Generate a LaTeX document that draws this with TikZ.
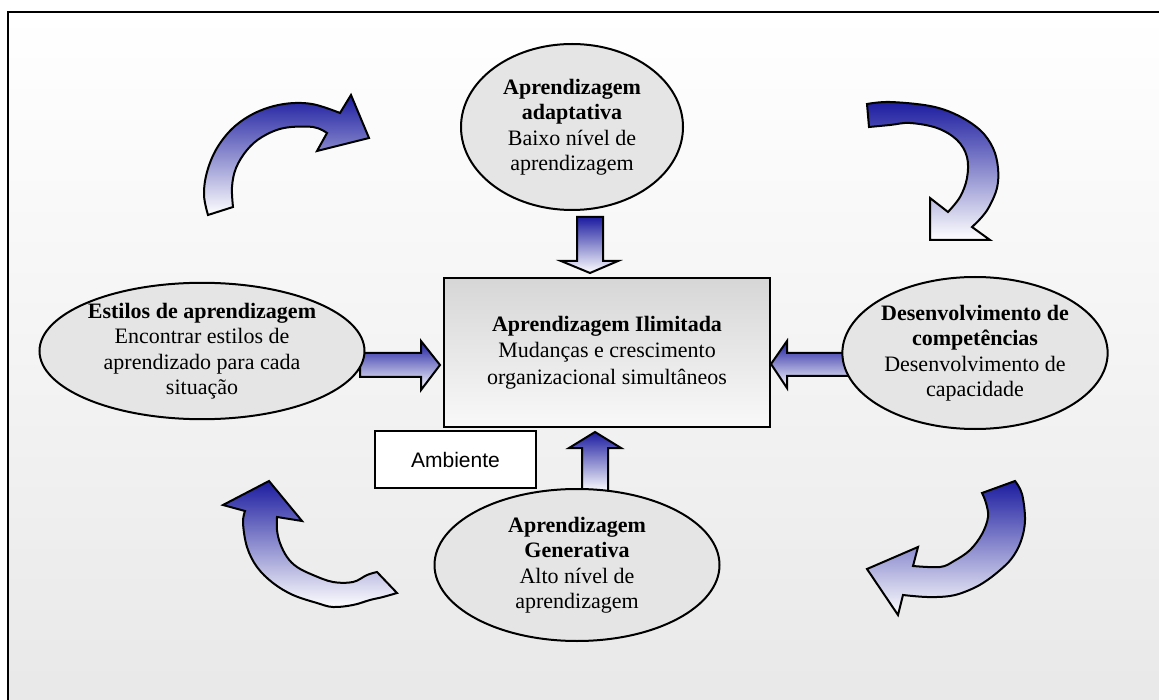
\documentclass[tikz,border=0pt]{standalone}
\usepackage{fontspec}
\setmainfont{Liberation Serif}
\setsansfont{Liberation Sans}
\usetikzlibrary{shapes.geometric}
\definecolor{arrowblue}{RGB}{28,28,160}
\begin{document}
\begin{tikzpicture}[x=1pt,y=-1pt,
  bubble/.style={ellipse, draw=black, line width=2, fill=gray!20, inner sep=0pt,
    align=center, font=\fontsize{22}{25.5}\selectfont},
  core/.style={rectangle, draw=black, line width=2, top color=gray!32, bottom color=gray!5,
    align=center, font=\fontsize{22}{26.5}\selectfont, minimum width=326, minimum height=149},
  tag/.style={rectangle, draw=black, line width=2, fill=white,
    font=\sffamily\fontsize{21}{25}\selectfont, minimum width=161, minimum height=57},
  flow/.style={draw=black, line width=2, line join=miter, top color=arrowblue, bottom color=white},
  edge/.style={smooth, tension=0.6},
]
\clip (0,0) rectangle (1159,700);
\fill[white] (0,0) rectangle (1159,700);
% framed background with a soft vertical gradient
\draw[line width=2, top color=white, bottom color=gray!18] (8,12) rectangle (1175,715);

% curved block arrows of the cycle
\draw[flow] (208,215) -- plot[edge] coordinates {(208,215) (204,195) (207,172) (217,148) (234,127) (257,112) (284,104) (312,104) (340,113)}
  -- (351,95) -- (369,138) -- (317,151)
  -- plot[edge] coordinates {(327,133) (313,127) (284,128) (262,137) (247,150) (236,168) (232,187) (233,207)} -- cycle;

\draw[flow] (867,104) -- plot[edge] coordinates {(867,104) (890,102) (930,106) (957,115) (980,130) (993,148) (998,168) (997,188) (989,207) (981,218) (972,227)}
  -- (990,240) -- (930,240) -- (930,198)
  -- plot[edge] coordinates {(948,212) (960,197) (967,178) (967,157) (957,140) (937,128) (910,123) (890,125) (869,127)} -- cycle;

\draw[flow] (982,493) -- plot[edge] coordinates {(1015,481) (1022,494) (1025,520) (1021,541) (1012,558) (999,571) (983,583) (967,591) (950,596) (927,597) (903,595)}
  -- (898,615) -- (867,569) -- (918,547)
  -- plot[edge] coordinates {(913,566) (940,567) (954,561) (970,550) (982,534) (988,517) (986,503) (982,493)} -- cycle;

\draw[flow] (269,481) -- (302,521)
  -- plot[edge] coordinates {(277,517) (277,530) (280,543) (287,557) (297,567) (313,575) (333,582) (353,582) (367,575) (377,572)}
  -- plot[edge] coordinates {(397,593) (383,597) (370,600) (353,605) (333,607) (317,603) (293,595) (273,583) (257,567) (247,547) (243,523) (245,511)}
  -- (223,505) -- cycle;

% straight block arrows into the centre
\draw[flow] (577,217) -- (603,217) -- (603,261) -- (618,261) -- (590,273) -- (561,261) -- (577,261) -- cycle;
\draw[flow] (582,492) -- (582,448) -- (569,448) -- (595,432) -- (621,448) -- (608,448) -- (608,492) -- cycle;
\draw[flow] (360,353) -- (421,353) -- (421,341) -- (440,365) -- (421,390) -- (421,377) -- (360,377) -- cycle;
\draw[flow] (850,353) -- (787,353) -- (787,341) -- (771,364) -- (787,388) -- (787,376) -- (850,376) -- cycle;

% learning stages
\node[bubble, minimum width=222, minimum height=166] (adapt) at (572,127)
  {\textbf{Aprendizagem}\\\textbf{adaptativa}\\Baixo nível de\\aprendizagem};
\node[bubble, minimum width=325, minimum height=133] (styles) at (202,351)
  {\textbf{Estilos de aprendizagem}\\Encontrar estilos de\\aprendizado para cada\\situação};
\node[bubble, minimum width=264, minimum height=152] (skills) at (975,353)
  {\textbf{Desenvolvimento de}\\\textbf{competências}\\Desenvolvimento de\\capacidade};
\node[bubble, minimum width=285, minimum height=152] (gen) at (577,565)
  {\textbf{Aprendizagem}\\\textbf{Generativa}\\Alto nível de\\aprendizagem};

\node[core] (core) at (607,352.5)
  {\textbf{Aprendizagem Ilimitada}\\Mudanças e crescimento\\organizacional simultâneos};

\node[tag] (env) at (455.5,459.5) {Ambiente};
\end{tikzpicture}
\end{document}
